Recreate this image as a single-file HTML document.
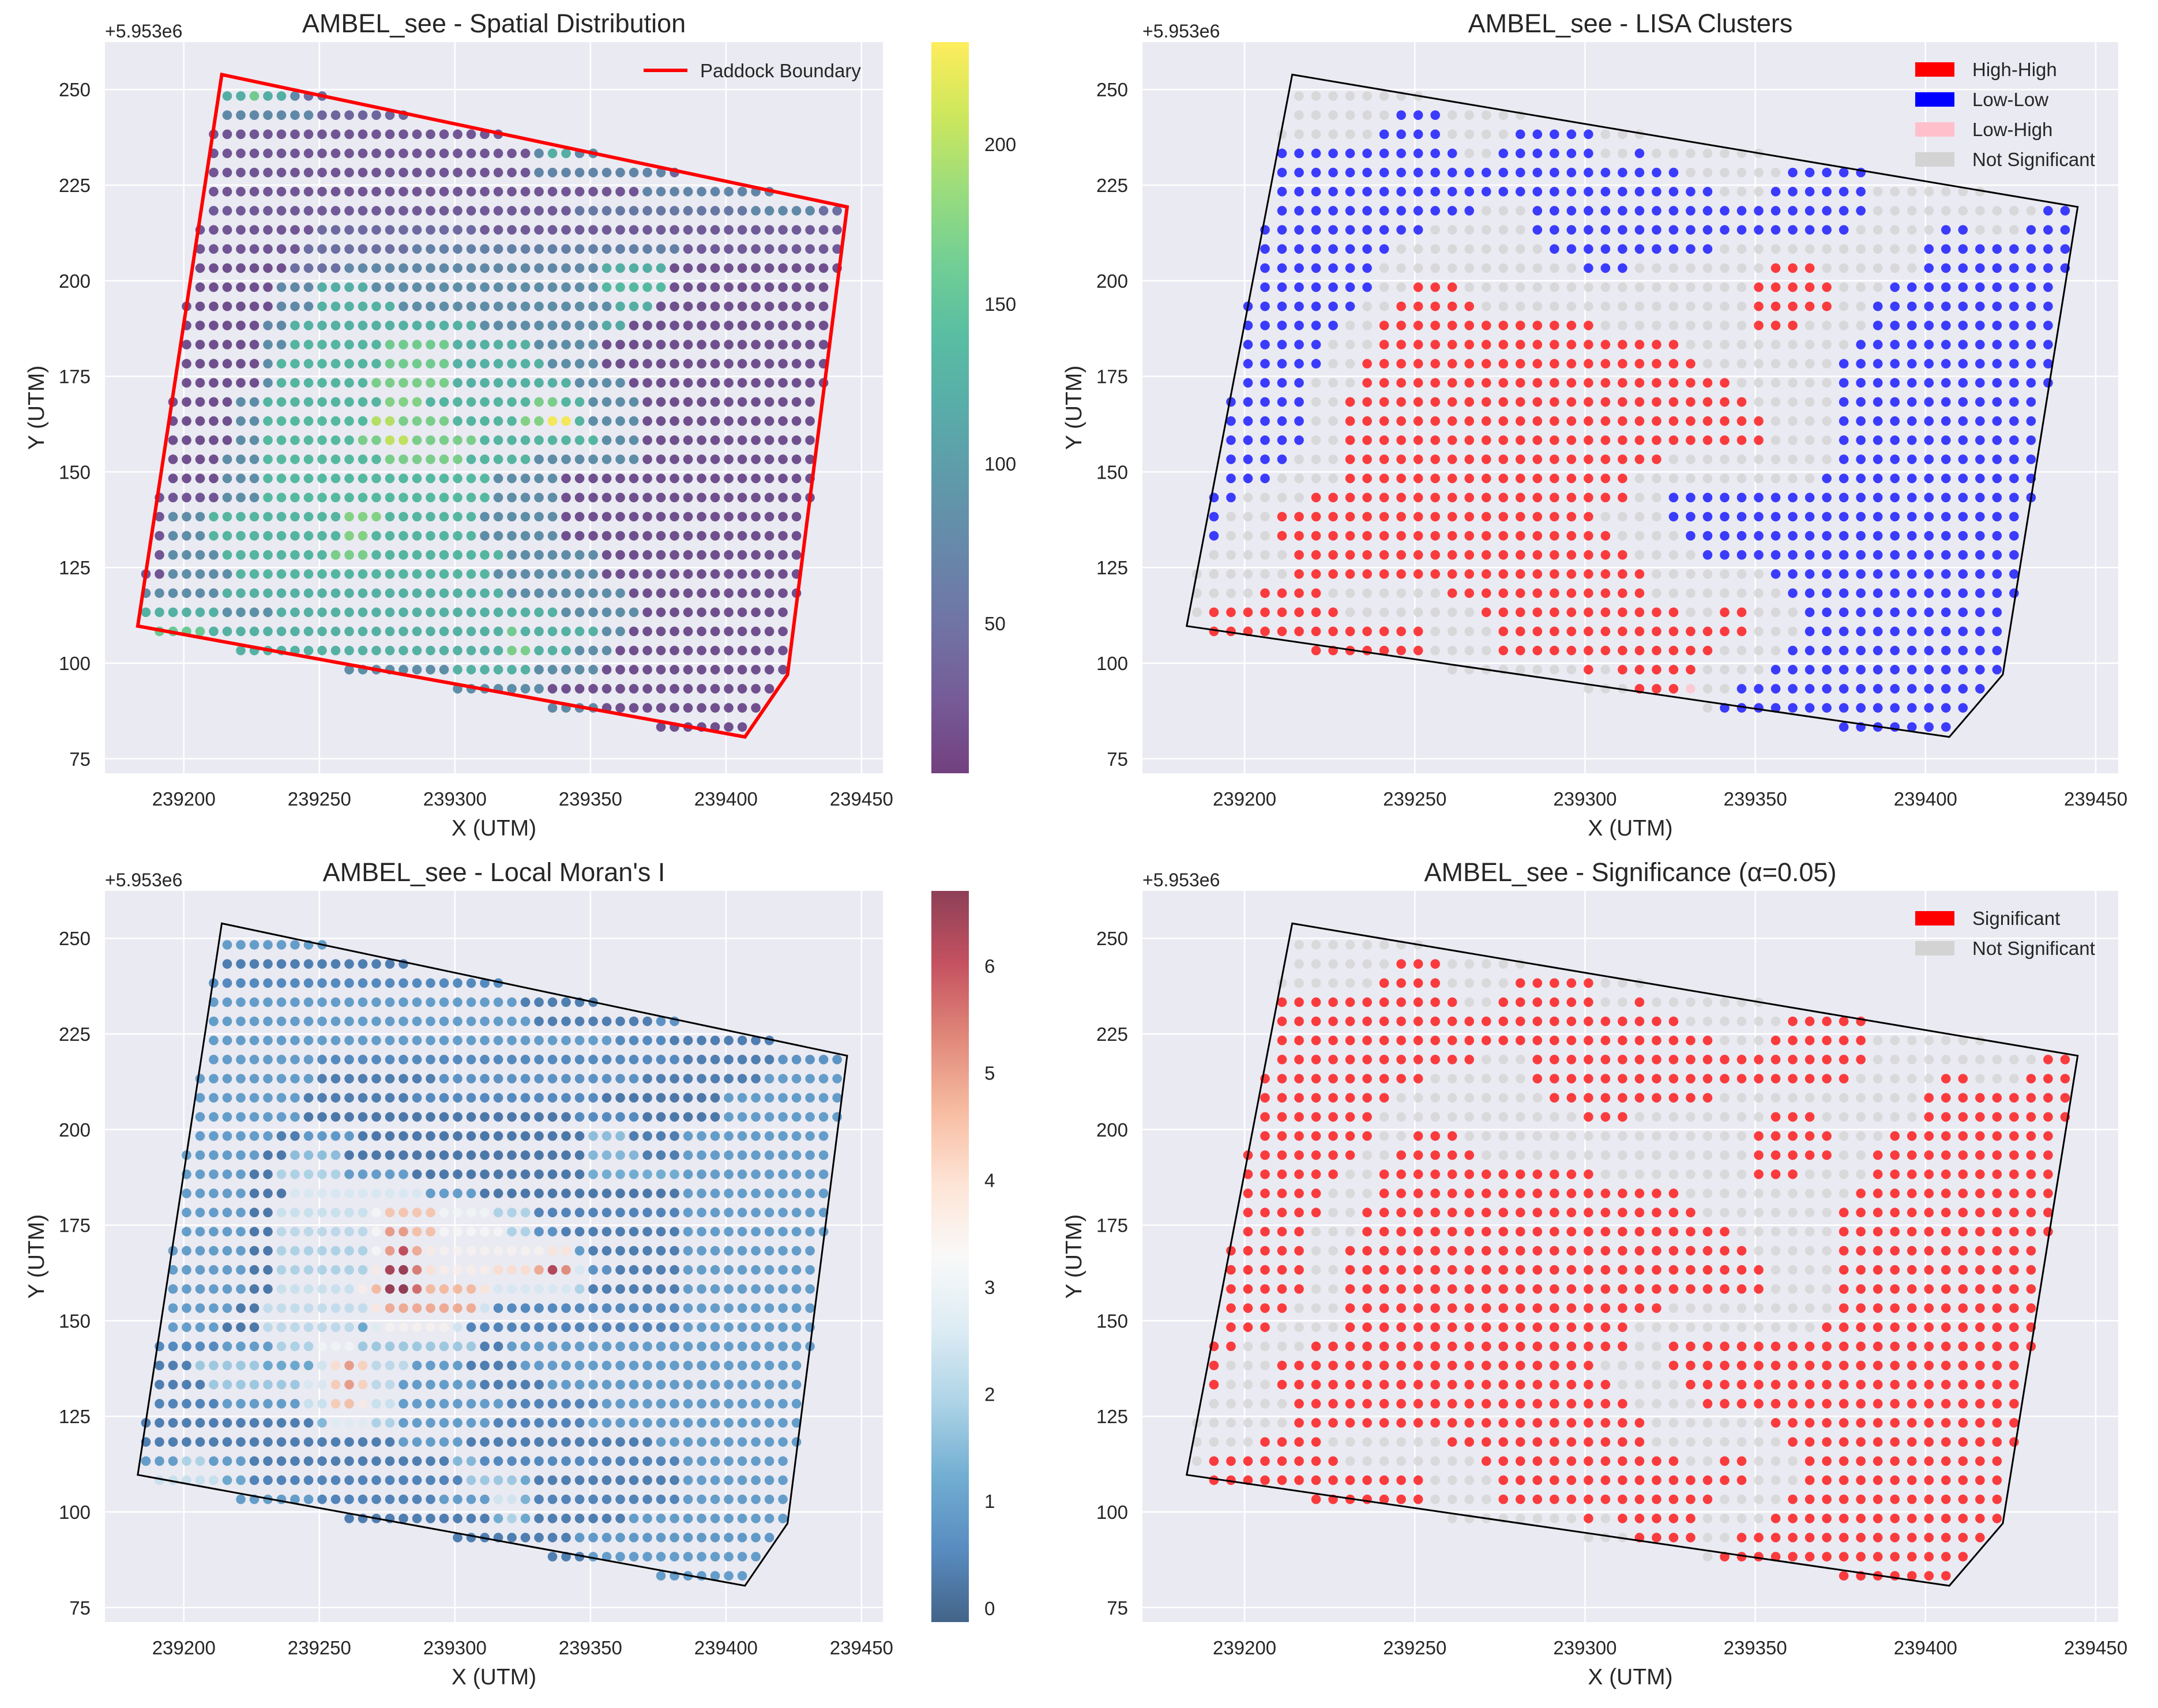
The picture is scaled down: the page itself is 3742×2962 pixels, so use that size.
<!DOCTYPE html>
<html><head><meta charset="utf-8">
<style>
html,body{margin:0;padding:0;background:#fff;}
svg{display:block;font-family:"Liberation Sans",Arial,sans-serif;}
</style></head>
<body>
<svg id="fig" xmlns="http://www.w3.org/2000/svg" width="3742" height="2962" viewBox="0 0 3742 2962">
<defs>
<linearGradient id="gViridis" x1="0" y1="1" x2="0" y2="0"></linearGradient>
<linearGradient id="gRdBu" x1="0" y1="1" x2="0" y2="0"></linearGradient>
</defs>
</svg>
<script>
// ---- data ----
const xTicks=[239200,239250,239300,239350,239400,239450];
const yTicks=[75,100,125,150,175,200,225,250];
const polyX=[239214,239444.7,239422.7,239407,239183];
const polyY=[253.9,219.3,97,80.7,109.7];
const gridX0=239186, gridStep=5, gridY0=248.3, nCols=52;
// Spatial distribution values per row (run-length: startCol:value)
const spatialRows=[
"0:125 8:165 9:125 11:80 12:45","0:80 13:40","0:25","0:25 29:80 30:125 32:80","0:25 29:75 39:40",
"0:25 37:75 47:40","0:30 32:60 45:80 50:50","0:25 13:45 25:30","0:25 12:50 20:70 40:30",
"0:20 11:50 15:80 34:125 39:20","0:20 10:80 13:125 17:85 34:140 39:20","0:20 10:80 13:130 19:85 35:125 38:20",
"0:20 9:80 11:130 25:85 34:120 36:20","0:20 9:85 11:135 18:165 23:130 29:85 34:20",
"0:20 9:85 10:135 18:165 23:130 30:85 34:20","0:20 9:85 10:135 17:170 23:130 32:85 36:20",
"0:20 7:85 9:135 18:175 21:135 29:170 31:135 33:85 37:20",
"0:20 7:85 9:140 17:200 19:170 23:135 28:175 30:230 32:135 33:85 37:20",
"0:20 7:85 9:140 16:170 18:205 20:170 25:135 34:85 37:20","0:20 6:85 9:140 18:170 24:135 29:85 37:20",
"0:20 6:85 9:140 26:85 31:20","0:25 6:85 9:140 26:85 31:20","0:25 2:85 5:135 15:175 18:135 25:85 31:20",
"0:25 2:85 5:135 15:175 17:135 25:85 31:20","0:25 2:85 6:135 14:170 17:135 27:85 34:20",
"0:25 2:85 7:135 26:85 34:20","0:85 6:130 27:85 36:20","0:130 6:90 10:130 31:85 37:20",
"0:160 5:130 27:165 28:130 34:85 36:20","0:130 27:170 29:130 32:85 35:20","0:85 23:130 29:85 34:20",
"0:85 30:20","0:80 34:20","0:20"];
// LISA cluster codes per row (H high-high, L low-low, P low-high, N not significant)
const clusterRows=[
"0N","0N 12L 15N","0N 11L 15N 19L 24N","0L 16N 18L 24N 26L 27N","0L 29N 35L 40N","0L 31N 34L 40N",
"0L 17N 20L 40N 50L","0L 14N 20L 39N 44L 46N 49L","0L 12N 21L 31N 43L","0L 11N 23L 26N 34H 37N 43L",
"0L 11N 13H 16N 33H 38N 41L","0L 10N 12H 17N 33H 38N 40L","0L 9N 11H 24N 33H 36N 40L",
"0L 8N 11H 29N 39L","0L 8N 10H 30N 38L","0L 7N 10H 32N 38L","0L 7N 9H 33N 38L","0L 7N 9H 34N 38L",
"0L 7N 9H 34N 38L","0L 6N 9H 28N 38L","0L 5N 9H 26N 37L","0L 3N 7H 26N 28L","0L 2N 5H 24N 28L",
"0L 2N 5H 25N 29L","0N 6H 26N 30L","0N 6H 27N 34L","0N 4H 8N 15H 27N 35L",
"0N 1H 9N 17H 29N 31H 33N 36L","0H 14N 18H 33N 36L","0H 14N 18H 31N 35L","0N 23H 24N 25H 30N 34L",
"0N 26H 29P 30N 32L","0N 31L","0L"];
// Local Moran's I per row
const moranRows=[
"0:1.0","0:0.4","0:0.6","0:1.0 28:0.4","0:1.0 29:0.4 38:0.8","0:1.0 35:0.6 39:0.4",
"0:1.0 13:0.6 40:0.4 47:0.8","0:1.0 13:0.4 22:0.8 37:0.4 46:1.0","0:1.0 12:0.4 20:0.6 34:0.3 43:1.0",
"0:1.0 12:0.3 32:0.6 37:0.3 43:1.0","0:1.0 10:0.4 12:0.9 16:0.3 33:1.6 36:0.4 40:1.0",
"0:1.0 9:0.3 11:1.6 15:0.3 33:1.5 37:0.4 40:1.0","0:1.0 8:0.3 10:2.0 15:1.0 20:0.3 33:1.3 40:1.0",
"0:1.0 8:0.3 11:2.6 21:1.0 25:0.3 40:1.0","0:1.0 8:0.3 10:2.4 17:3.3 18:4.4 22:3.2 26:2.0 29:0.5 40:1.0",
"0:1.0 8:0.3 10:2.2 17:3.3 18:5.0 20:4.5 22:3.3 27:2.0 29:0.8 31:0.4 40:1.0",
"0:1.0 8:0.3 10:2.0 17:3.3 18:5.0 19:6.0 20:4.8 21:3.6 22:3.4 30:3.8 32:1.0 33:0.4 40:1.0",
"0:1.0 8:0.3 10:2.0 17:3.6 18:6.3 19:6.5 20:5.4 21:3.9 22:3.5 26:4.0 29:4.8 30:6.2 31:5.2 32:2.6 33:0.8 35:0.4 40:1.0",
"0:1.0 8:0.3 10:2.4 16:3.5 17:4.6 18:6.5 19:6.6 20:5.6 21:4.6 25:3.8 26:2.6 32:2.0 33:0.4 40:1.0",
"0:1.0 7:0.3 9:2.3 17:3.7 18:4.8 25:2.5 26:0.6 40:1.0","0:1.0 6:0.3 9:2.2 16:1.2 17:2.8 18:3.4 23:2.5 24:0.5 40:1.0",
"0:0.6 6:1.0 10:2.0 13:3.2 16:1.8 25:0.4 27:1.0","0:0.4 4:1.8 9:1.2 13:2.5 14:4.0 15:5.0 16:4.2 17:2.2 20:1.0 24:0.4 28:1.0",
"0:0.4 5:1.8 12:2.6 14:4.3 15:5.0 16:4.2 17:2.2 19:1.0 25:0.4 30:1.0",
"0:0.5 6:1.0 12:2.4 14:4.3 15:4.5 16:3.6 17:2.4 19:1.0 27:0.5 34:1.0",
"0:0.4 13:1.5 14:2.8 17:2.0 19:1.0 26:0.5 33:1.0","0:0.4 19:1.0 24:0.4 38:1.0",
"0:1.0 3:2.0 5:1.0 8:0.4 23:1.5 25:0.6 34:0.5 40:1.0","0:2.4 6:1.2 8:0.5 24:1.8 28:1.2 29:0.4 40:1.0",
"0:1.0 13:0.5 22:1.0 26:2.5 28:1.4 29:0.5 40:1.0","0:0.4 26:1.3 27:2.0 28:1.2 29:0.4 36:1.0",
"0:0.4 32:0.9","0:0.4 33:1.0","0:1.0"];
const viridisTicks=[50,100,150,200];
const moranTicks=[0,1,2,3,4,5,6];
const clusterLegend=["High-High","Low-Low","Low-High","Not Significant"];
const sigLegend=["Significant","Not Significant"];

// ---- helpers ----
const NS="http://www.w3.org/2000/svg";
const svg=document.getElementById('fig');
function el(tag,attrs,parent){const e=document.createElementNS(NS,tag);for(const k in attrs)e.setAttribute(k,attrs[k]);(parent||svg).appendChild(e);return e;}
function decodeNum(s){const out=new Array(nCols).fill(0);const parts=s.trim().split(/\s+/).map(p=>p.split(':').map(Number));for(let i=0;i<parts.length;i++){const end=i+1<parts.length?parts[i+1][0]:nCols;for(let k=parts[i][0];k<end;k++)out[k]=parts[i][1];}return out;}
function decodeCat(s){const out=new Array(nCols).fill('N');const parts=s.trim().split(/\s+/).map(p=>[parseInt(p),p.replace(/[0-9]/g,'')]);for(let i=0;i<parts.length;i++){const end=i+1<parts.length?parts[i+1][0]:nCols;for(let k=parts[i][0];k<end;k++)out[k]=parts[i][1];}return out;}
function insideStrict(x,y){let c=false;for(let i=0,j=polyX.length-1;i<polyX.length;j=i++){if(((polyY[i]>y)!=(polyY[j]>y))&&(x<(polyX[j]-polyX[i])*(y-polyY[i])/(polyY[j]-polyY[i])+polyX[i]))c=!c;}return c;}
function segDist(x,y,ax,ay,bx,by){const dx=bx-ax,dy=by-ay;let t=((x-ax)*dx+(y-ay)*dy)/(dx*dx+dy*dy);t=Math.max(0,Math.min(1,t));const px=ax+t*dx-x,py=ay+t*dy-y;return Math.sqrt(px*px+py*py);}
// strict inside, with a small tolerance only along the southern edge
function inside(x,y){if(insideStrict(x,y))return true;return segDist(x,y,polyX[3],polyY[3],polyX[4],polyY[4])<1.7 && x>polyX[4]+3 && x<polyX[3];}
function hex(h){return [parseInt(h.slice(1,3),16),parseInt(h.slice(3,5),16),parseInt(h.slice(5,7),16)];}
function cmap(stops,t){t=Math.max(0,Math.min(1,t));const n=stops.length-1;const i=Math.min(n-1,Math.floor(t*n));const f=t*n-i;const a=hex(stops[i]),b=hex(stops[i+1]);return 'rgb('+a.map((v,j)=>Math.round(v+(b[j]-v)*f)).join(',')+')';}
const VIR=['#440154','#482475','#414487','#355f8d','#2a788e','#21918c','#22a884','#44bf70','#7ad151','#bddf26','#fde725'];
const RDBU=['#053061','#2166ac','#4393c3','#92c5de','#d1e5f0','#f7f7f7','#fddbc7','#f4a582','#d6604d','#b2182b','#67001f'];
['gViridis','gRdBu'].forEach((id,gi)=>{const g=document.getElementById(id);const st=gi?RDBU:VIR;st.forEach((c,i)=>el('stop',{offset:(i/(st.length-1)),'stop-color':c,'stop-opacity':0.75},g));});

const DY=1472;
const panels=[
 {name:'spatial',title:'AMBEL_see - Spatial Distribution',x0:182,x1:1531,y0:73,y1:1341,xl:[239170.9,239457.9]},
 {name:'lisa',title:'AMBEL_see - LISA Clusters',x0:1981,x1:3673,y0:73,y1:1341,xl:[239170,239456.6]},
 {name:'moran',title:"AMBEL_see - Local Moran's I",x0:182,x1:1531,y0:73+DY,y1:1341+DY,xl:[239170.9,239457.9]},
 {name:'significance',title:'AMBEL_see - Significance (\u03b1=0.05)',x0:1981,x1:3673,y0:73+DY,y1:1341+DY,xl:[239170,239456.6]}
];
const yl=[71.2,262.4];

panels.forEach((p,pi)=>{
 const X=v=>p.x0+(v-p.xl[0])/(p.xl[1]-p.xl[0])*(p.x1-p.x0);
 const Y=v=>p.y1-(v-yl[0])/(yl[1]-yl[0])*(p.y1-p.y0);
 const g=el('g',{});
 
 
 const bg=el('rect',{x:p.x0,y:p.y0,width:p.x1-p.x0,height:p.y1-p.y0,fill:'#EAEAF2'},g);
 
 
 xTicks.forEach(t=>{
  const l=el('line',{x1:X(t),x2:X(t),y1:p.y0,y2:p.y1,stroke:'#fff','stroke-width':2.5},g);
  
  
  const tx=el('text',{x:X(t),y:p.y1+56,'font-size':33,fill:'#262626','text-anchor':'middle'},g);
  tx.textContent=t;
  
  
 });
 yTicks.forEach(t=>{
  const l=el('line',{x1:p.x0,x2:p.x1,y1:Y(t),y2:Y(t),stroke:'#fff','stroke-width':2.5},g);
  
  
  const tx=el('text',{x:p.x0-25,y:Y(t)+12,'font-size':33,fill:'#262626','text-anchor':'end'},g);
  tx.textContent=t;
  
  
 });
 // points
 const pts=el('g',{},g);
 
 
 for(let r=0;r<spatialRows.length;r++){
  const yv=gridY0-gridStep*r;
  const sv=decodeNum(spatialRows[r]), cv=decodeCat(clusterRows[r]), mv=decodeNum(moranRows[r]);
  for(let k=0;k<nCols;k++){
   const xv=gridX0+gridStep*k;
   if(!inside(xv,yv))continue;
   let fill,op=0.75;
   if(pi===0){fill=cmap(VIR,(sv[k]-3)/(232-3));}
   else if(pi===2){fill=cmap(RDBU,(mv[k]+0.13)/(6.7+0.13));}
   else if(pi===1){const c=cv[k];fill=c==='H'?'#ff0000':c==='L'?'#0000ff':c==='P'?'#ffc0cb':'#d3d3d3';op=c==='N'?0.8:0.75;}
   else {const c=cv[k];fill=c==='N'?'#d3d3d3':'#ff0000';op=0.75;}
   const c=el('circle',{cx:X(xv),cy:Y(yv),r:8.3,fill:fill,'fill-opacity':op},pts);
   
   
  }
 }
 const pl=el('polygon',{points:polyX.map((x,i)=>X(x)+','+Y(polyY[i])).join(' '),fill:'none',stroke:pi===0?'#ff0000':'#000','stroke-width':pi===0?6:3,'stroke-linejoin':'miter'},g);
 
 
 const tt=el('text',{x:(p.x0+p.x1)/2,y:p.y0-17,'font-size':45,fill:'#262626','text-anchor':'middle'},g);
 tt.textContent=p.title;
 
 
 const off=el('text',{x:p.x0,y:p.y0-8,'font-size':32,fill:'#262626'},g);
 off.textContent='+5.953e6';
 
 
 const xl=el('text',{x:(p.x0+p.x1)/2,y:p.y1+108,'font-size':39,fill:'#262626','text-anchor':'middle'},g);
 xl.textContent='X (UTM)';
 
 
 const yc=(p.y0+p.y1)/2, yx=p.x0-106;
 const ylb=el('text',{x:yx,y:yc,'font-size':39,fill:'#262626','text-anchor':'middle',transform:'rotate(-90 '+yx+' '+yc+')'},g);
 ylb.textContent='Y (UTM)';
 
 

 // colorbars
 if(pi===0||pi===2){
  const cb=el('rect',{x:1615,y:p.y0,width:65,height:p.y1-p.y0,fill:pi===0?'url(#gViridis)':'url(#gRdBu)'},g);
  
  
  const ticks=pi===0?viridisTicks:moranTicks, lo=pi===0?3:-0.13, hi=pi===0?232:6.7;
  ticks.forEach(t=>{
   const yy=p.y1-(t-lo)/(hi-lo)*(p.y1-p.y0);
   const tx=el('text',{x:1707,y:yy+12,'font-size':33,fill:'#262626'},g);
   tx.textContent=t;
   
   
  });
 }
 // legends
 if(pi===0){
  const lg=el('g',{},g);
  
  
  const ln=el('line',{x1:1116,x2:1192,y1:122,y2:122,stroke:'#ff0000','stroke-width':6},lg);
  
  
  const t=el('text',{x:1214,y:134,'font-size':33,fill:'#262626'},lg);
  t.textContent='Paddock Boundary';
  
  
 }
 if(pi===1||pi===3){
  const labels=pi===1?clusterLegend:sigLegend;
  const cols=pi===1?['#ff0000','#0000ff','#ffc0cb','#d3d3d3']:['#ff0000','#d3d3d3'];
  const lg=el('g',{},g);
  
  
  labels.forEach((lab,i)=>{
   const yy=p.y0+47+52*i;
   const sw=el('rect',{x:3321,y:yy-12,width:68,height:25,fill:cols[i]},lg);
   
   
   const t=el('text',{x:3420,y:yy+12,'font-size':33,fill:'#262626'},lg);
   t.textContent=lab;
   
   
  });
 }
});
</script>
</body></html>
